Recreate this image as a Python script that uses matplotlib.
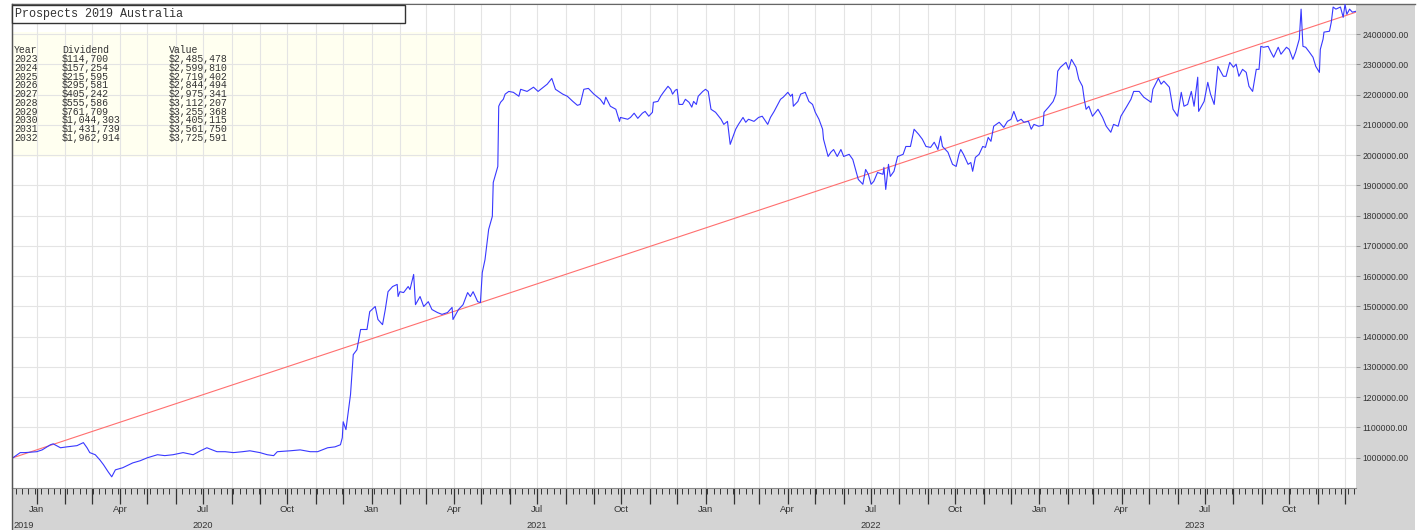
import pandas as pd
import matplotlib
matplotlib.use('Agg')
import matplotlib.pyplot as plt
import matplotlib.dates as mdates
from matplotlib.patches import Rectangle
from matplotlib.lines import Line2D
from matplotlib.ticker import FixedLocator, FuncFormatter

start = pd.Timestamp('2019-12-05')
end = pd.Timestamp('2023-12-13')

days = [1, 9, 14, 27, 33, 42, 45, 53, 60, 71, 78, 82, 85, 91, 96, 100, 105, 109, 113,
        121, 132, 140, 148, 159, 167, 176, 187, 198, 206, 213, 224, 233, 242, 252, 260, 271, 279, 286, 290, 304, 315, 326, 334, 345, 353, 359,
        361, 362, 365, 370, 373, 377, 381, 384, 388, 391, 397, 400, 405, 408, 411, 416, 421, 422, 424, 428,
        433, 435, 439, 441, 446, 450, 455, 459, 465, 470, 476, 481, 482, 488, 493, 498, 501, 504, 509, 512,
        514, 517, 521, 525, 526, 531, 532, 534, 537, 539, 543, 548, 554, 556, 563, 570, 575, 585, 590, 594,
        602, 607, 613, 618, 621, 625, 630, 636, 643, 647, 649, 654, 660, 664,
        665, 673, 676, 680, 684, 689, 692, 696, 700, 701, 706, 709, 712, 717, 720, 722, 725, 727, 729, 733,
        736, 740, 743, 745, 748, 750, 755, 758, 761, 764, 769, 775, 778, 782, 785, 791, 794, 799, 802, 805,
        811, 816, 820, 826, 829, 833, 837, 840, 843, 848, 851, 853, 854, 859, 862, 867, 871, 875, 878, 882,
        886, 887, 892, 895, 898, 902, 906, 909, 915, 919, 922, 925, 930, 933, 936, 939, 942, 946, 952, 953,
        955, 958, 960, 964, 968, 974, 977, 982, 986, 991, 995, 999, 1004, 1008, 1012, 1015, 1017, 1023, 1028, 1032,
        1035, 1037, 1040, 1045, 1048, 1050, 1053, 1057, 1061, 1064, 1067, 1070, 1073, 1079, 1084, 1088, 1092, 1095, 1099, 1103,
        1106, 1111, 1114, 1117, 1122, 1127, 1128, 1133, 1138, 1141, 1143, 1146, 1152, 1155, 1158, 1163, 1166, 1170, 1172, 1174,
        1177, 1181, 1187, 1192, 1196, 1201, 1204, 1209, 1212, 1218, 1223, 1226, 1232, 1237, 1245, 1247, 1253, 1256, 1259, 1265,
        1269, 1274, 1278, 1281, 1285, 1289, 1292, 1296, 1297, 1303, 1307, 1310, 1314, 1318, 1324, 1327, 1331, 1335, 1338, 1341,
        1345, 1349, 1352, 1356, 1360, 1363, 1365, 1368, 1373, 1376, 1379, 1384, 1387, 1393, 1396, 1400, 1403, 1407, 1409, 1411,
        1414, 1418, 1422, 1425, 1429, 1430, 1433, 1434, 1440, 1442, 1444, 1447, 1452, 1455, 1457, 1459, 1462, 1465, 1469]

values_k = [1000, 1017, 1017, 1020, 1026, 1043, 1046, 1033, 1036, 1040, 1050, 1033, 1017, 1010, 993, 977, 954, 937, 960,
            967, 983, 990, 1000, 1010, 1007, 1010, 1017, 1010, 1023, 1033, 1020, 1020, 1017, 1020, 1023, 1017, 1010, 1007, 1020, 1023, 1026, 1020, 1020, 1033, 1036, 1043,
            1066, 1119, 1093, 1209, 1341, 1357, 1424, 1424, 1424, 1483, 1500, 1457, 1440, 1490, 1549, 1566, 1573, 1533, 1549, 1546,
            1566, 1556, 1606, 1506, 1533, 1500, 1516, 1490, 1480, 1474, 1480, 1497, 1457, 1490, 1506, 1546, 1533, 1549, 1516, 1513,
            1612, 1655, 1755, 1798, 1910, 1963, 2162, 2175, 2185, 2202, 2211, 2208, 2195, 2218, 2211, 2225, 2211, 2235, 2254, 2218,
            2202, 2195, 2178, 2165, 2168, 2218, 2221, 2202, 2185, 2168, 2192, 2162, 2152, 2112,
            2125, 2119, 2125, 2139, 2122, 2139, 2145, 2129, 2142, 2175, 2178, 2195, 2208, 2228, 2218, 2202, 2215, 2218, 2168, 2168,
            2185, 2175, 2159, 2178, 2168, 2195, 2211, 2218, 2211, 2152, 2142, 2119, 2102, 2112, 2036, 2086, 2102, 2125, 2109, 2119,
            2112, 2125, 2129, 2102, 2125, 2145, 2168, 2185, 2192, 2208, 2195, 2202, 2162, 2178, 2202, 2208, 2178, 2168, 2142, 2119,
            2086, 2053, 1996, 2010, 2019, 1996, 2019, 1996, 2003, 1986, 1953, 1920, 1904, 1953, 1937, 1904, 1914, 1943, 1937, 1960,
            1887, 1970, 1930, 1947, 1996, 2003, 2029, 2029, 2086, 2069, 2053, 2029, 2026, 2043, 2019, 2063, 2029, 2010, 1970, 1963,
            2003, 2019, 2003, 1970, 1976, 1947, 1993, 2003, 2029, 2026, 2059, 2046, 2096, 2109, 2092, 2112, 2119, 2145, 2112, 2119,
            2109, 2112, 2086, 2102, 2096, 2099, 2142, 2159, 2178, 2202, 2278, 2291, 2307, 2284, 2317, 2291, 2251, 2228, 2185, 2152,
            2162, 2129, 2152, 2125, 2096, 2076, 2102, 2096, 2129, 2159, 2185, 2211, 2211, 2192, 2175, 2218, 2254, 2235, 2245, 2225,
            2152, 2129, 2208, 2162, 2168, 2211, 2162, 2258, 2145, 2178, 2241, 2202, 2168, 2294, 2261, 2261, 2307, 2291, 2301, 2261,
            2284, 2274, 2228, 2211, 2284, 2284, 2360, 2357, 2360, 2341, 2324, 2357, 2334, 2357, 2350, 2317, 2341, 2384, 2483, 2360,
            2357, 2341, 2324, 2294, 2274, 2350, 2384, 2407, 2410, 2440, 2490, 2483, 2490, 2456, 2499, 2466, 2483, 2473, 2476]

# straight trend line (red)
trend_days = [1, 1469]
trend_values = [1000000, 2473000]

# prospects table
title = 'Prospects 2019 Australia'
tbl_years = ['2023', '2024', '2025', '2026', '2027', '2028', '2029', '2030', '2031', '2032']
tbl_dividend = ['$114,700', '$157,254', '$215,595', '$295,581', '$405,242',
                '$555,586', '$761,709', '$1,044,303', '$1,431,739', '$1,962,914']
tbl_value = ['$2,485,478', '$2,599,810', '$2,719,402', '$2,844,494', '$2,975,341',
             '$3,112,207', '$3,255,368', '$3,405,115', '$3,561,750', '$3,725,591']

year_labels = ['2019', '2020', '2021', '2022', '2023']
year_dates = ['2019-12-18', '2020-07-01', '2021-07-01', '2022-07-01', '2023-06-20']

W, H = 1421, 530
dates = start + pd.to_timedelta(days, unit='D')
vals = [v * 1000 for v in values_k]
tdates = start + pd.to_timedelta(trend_days, unit='D')

fig = plt.figure(figsize=(W / 100, H / 100), dpi=100)
fig.patch.set_facecolor('white')

# grey frame around the plot
fig.patches.append(Rectangle((12 / W, 0), (1415 - 12) / W, (H - 4) / H, transform=fig.transFigure,
                             facecolor='#d4d4d4', edgecolor='none', zorder=0))
fig.lines.append(Line2D([12 / W, 1415 / W], [1 - 4 / H, 1 - 4 / H], transform=fig.transFigure,
                        color='#666666', lw=1, zorder=0.5))
fig.lines.append(Line2D([12 / W, 12 / W], [0, 1 - 4 / H], transform=fig.transFigure,
                        color='#555555', lw=1, zorder=3))

ax = fig.add_axes([12 / W, (H - 488) / H, (1356 - 12) / W, (488 - 4) / H])
ax.set_zorder(1)
ax.set_facecolor('white')
ax.set_axisbelow(True)

ax.plot(tdates, trend_values, color='#ff6f6f', lw=0.8, zorder=2)
ax.plot(dates, vals, color='#3838ff', lw=0.8, zorder=3)

ax.set_xlim(start, end)
ax.set_ylim(900000, 2500000)

# y axis on the right
ax.yaxis.tick_right()
ax.yaxis.set_major_locator(FixedLocator(list(range(1000000, 2400001, 100000))))
ax.yaxis.set_major_formatter(FuncFormatter(lambda v, p: '%.2f' % v))
ax.tick_params(axis='y', direction='out', length=3, width=0.6, color='#888888',
               labelsize=6.2, labelcolor='#333333', pad=1.5)

# x axis: monthly major ticks, weekly minor ticks
ax.xaxis.set_major_locator(mdates.MonthLocator())
ax.xaxis.set_minor_locator(mdates.WeekdayLocator(byweekday=mdates.MO))


def month_fmt(x, pos):
    d = mdates.num2date(x)
    return d.strftime('%b') if d.month in (1, 4, 7, 10) else ''


ax.xaxis.set_major_formatter(FuncFormatter(month_fmt))
ax.tick_params(axis='x', which='major', direction='out', length=11.5, width=0.9, color='#333333',
               labelsize=6.8, labelcolor='#333333', pad=0.5)
ax.tick_params(axis='x', which='minor', direction='out', length=4, width=0.7, color='#333333')

for lab in ax.get_xticklabels() + ax.get_yticklabels():
    lab.set_fontfamily('Liberation Sans')

ax.grid(True, which='major', color='#e4e4e4', lw=0.8)

ax.spines['right'].set_visible(False)
ax.spines['top'].set_color('#666666')
ax.spines['left'].set_color('#555555')
ax.spines['bottom'].set_color('#888888')
ax.spines['bottom'].set_linewidth(0.8)

# year labels under the month labels
for lab, d in zip(year_labels, year_dates):
    ax.text(pd.Timestamp(d), -0.0765, lab, transform=ax.get_xaxis_transform(), ha='center', va='center',
            fontsize=6.6, color='#333333', family='Liberation Sans', clip_on=False)

# light yellow table panel
ax.add_patch(Rectangle((0, (488 - 157) / 484), (481 - 12) / 1344, (157 - 32) / 484, transform=ax.transAxes,
                       facecolor='#fffff0', edgecolor='none', zorder=0.3))

# title box
fig.patches.append(Rectangle((12 / W, 1 - 23 / H), (405 - 12) / W, (23 - 5) / H, transform=fig.transFigure,
                             facecolor='white', edgecolor='#333333', lw=1, zorder=5))
fig.text(15 / W, 1 - 14 / H, title, family='Liberation Mono', fontsize=8.5, color='#333333',
         va='center', ha='left', zorder=6)

mono = dict(family='Liberation Mono', fontsize=7.1, color='#333333', va='center', ha='left', zorder=6)
fig.text(14 / W, 1 - 50 / H, 'Year', **mono)
fig.text(62 / W, 1 - 50 / H, 'Dividend', **mono)
fig.text(169 / W, 1 - 50 / H, 'Value', **mono)
for i, (yr, dv, vl) in enumerate(zip(tbl_years, tbl_dividend, tbl_value)):
    yy = 1 - (59.3 + i * 8.71) / H
    fig.text(14 / W, yy, yr, **mono)
    fig.text(62 / W, yy, dv, **mono)
    fig.text(169 / W, yy, vl, **mono)

fig.savefig('out.png', dpi=100, facecolor=fig.get_facecolor())
